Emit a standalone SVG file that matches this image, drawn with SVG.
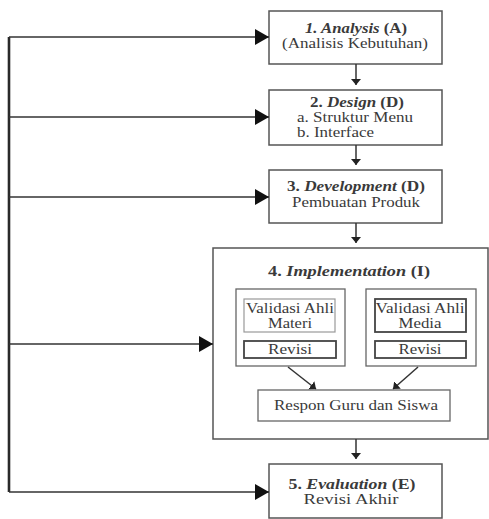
<svg xmlns="http://www.w3.org/2000/svg" width="489" height="519" viewBox="0 0 489 519">
<defs>
<style>
.box{fill:#fff;stroke:#555;stroke-width:1.5}
.inner{fill:#fff;stroke:#666;stroke-width:1.3}
.sub{fill:#fff;stroke:#444;stroke-width:1.8}
.light{fill:#fff;stroke:#999;stroke-width:1.2}
.ln{fill:none;stroke:#333;stroke-width:1.5}
.trunk{fill:none;stroke:#2a2a2a;stroke-width:2.6}
text{font-family:"Liberation Serif","Times New Roman",serif;font-size:14.5px;fill:#3a3a3a;text-anchor:middle}
.t{font-weight:bold}
.i{font-style:italic}
.l{text-anchor:start}
</style>
<marker id="big" markerUnits="userSpaceOnUse" markerWidth="15" markerHeight="17" refX="14" refY="8" orient="auto">
<path d="M0,0 L14,8 L0,16 z" fill="#111"/>
</marker>
<marker id="small" markerUnits="userSpaceOnUse" markerWidth="8" markerHeight="11" refX="6" refY="5" orient="auto">
<path d="M0,0 L6,5 L0,10 z" fill="#222"/>
</marker>
</defs>

<g id="n1">
<rect class="box" x="269" y="11" width="173" height="53"/>
<text x="356" y="33" textLength="102" lengthAdjust="spacingAndGlyphs"><tspan class="t i">1. Analysis</tspan><tspan class="t"> (A)</tspan></text>
<text x="355" y="48" textLength="146" lengthAdjust="spacingAndGlyphs">(Analisis Kebutuhan)</text>
</g>

<g id="n2">
<rect class="box" x="269" y="90" width="173" height="55"/>
<text x="357" y="107" textLength="94" lengthAdjust="spacingAndGlyphs"><tspan class="t">2. </tspan><tspan class="t i">Design</tspan><tspan class="t"> (D)</tspan></text>
<text class="l" x="297" y="122" textLength="116" lengthAdjust="spacingAndGlyphs">a. Struktur Menu</text>
<text class="l" x="297" y="137" textLength="77" lengthAdjust="spacingAndGlyphs">b. Interface</text>
</g>

<g id="n3">
<rect class="box" x="269" y="170" width="173" height="53"/>
<text x="356" y="191" textLength="138" lengthAdjust="spacingAndGlyphs"><tspan class="t">3. </tspan><tspan class="t i">Development</tspan><tspan class="t"> (D)</tspan></text>
<text x="356" y="207" textLength="128" lengthAdjust="spacingAndGlyphs">Pembuatan Produk</text>
</g>

<g id="n4">
<rect class="box" x="213" y="248" width="275" height="191"/>
<text x="349" y="276" textLength="162" lengthAdjust="spacingAndGlyphs"><tspan class="t">4. </tspan><tspan class="t i">Implementation</tspan><tspan class="t"> (I)</tspan></text>
</g>

<g id="n4a">
<rect class="inner" x="236" y="289" width="109" height="77"/>
<rect class="light" x="244" y="299" width="91" height="33"/>
<text x="290" y="313" textLength="88" lengthAdjust="spacingAndGlyphs">Validasi Ahli</text>
<text x="290" y="328" textLength="44" lengthAdjust="spacingAndGlyphs">Materi</text>
<rect class="sub" x="244" y="341" width="92" height="17"/>
<text x="290" y="354" textLength="44" lengthAdjust="spacingAndGlyphs">Revisi</text>
</g>

<g id="n4b">
<rect class="inner" x="366" y="289" width="110" height="77"/>
<rect class="sub" x="375" y="299" width="91" height="33"/>
<text x="420" y="313" textLength="89" lengthAdjust="spacingAndGlyphs">Validasi Ahli</text>
<text x="420" y="328" textLength="43" lengthAdjust="spacingAndGlyphs">Media</text>
<rect class="sub" x="375" y="341" width="91" height="17"/>
<text x="420" y="354" textLength="43" lengthAdjust="spacingAndGlyphs">Revisi</text>
</g>

<g id="n4c">
<rect class="inner" x="258" y="390" width="192" height="31"/>
<text x="356" y="410" textLength="164" lengthAdjust="spacingAndGlyphs">Respon Guru dan Siswa</text>
</g>

<g id="n5">
<rect class="box" x="269" y="464" width="173" height="54"/>
<text x="352" y="489" textLength="127" lengthAdjust="spacingAndGlyphs"><tspan class="t">5. </tspan><tspan class="t i">Evaluation</tspan><tspan class="t"> (E)</tspan></text>
<text x="351" y="504" textLength="95" lengthAdjust="spacingAndGlyphs">Revisi Akhir</text>
</g>

<g id="connectors">
<path class="trunk" d="M9,37 V492"/>
<path class="ln" d="M9,37 H269" marker-end="url(#big)"/>
<path class="ln" d="M9,117 H269" marker-end="url(#big)"/>
<path class="ln" d="M9,197 H269" marker-end="url(#big)"/>
<path class="ln" d="M9,344 H213" marker-end="url(#big)"/>
<path class="ln" d="M9,492 H269" marker-end="url(#big)"/>
<path class="ln" d="M356,64 V85" marker-end="url(#small)"/>
<path class="ln" d="M356,145 V165" marker-end="url(#small)"/>
<path class="ln" d="M356,223 V243" marker-end="url(#small)"/>
<path class="ln" d="M356,439 V459" marker-end="url(#small)"/>
<path class="ln" d="M288,367 L316,389" marker-end="url(#small)"/>
<path class="ln" d="M418,367 L393,389" marker-end="url(#small)"/>
</g>
</svg>
